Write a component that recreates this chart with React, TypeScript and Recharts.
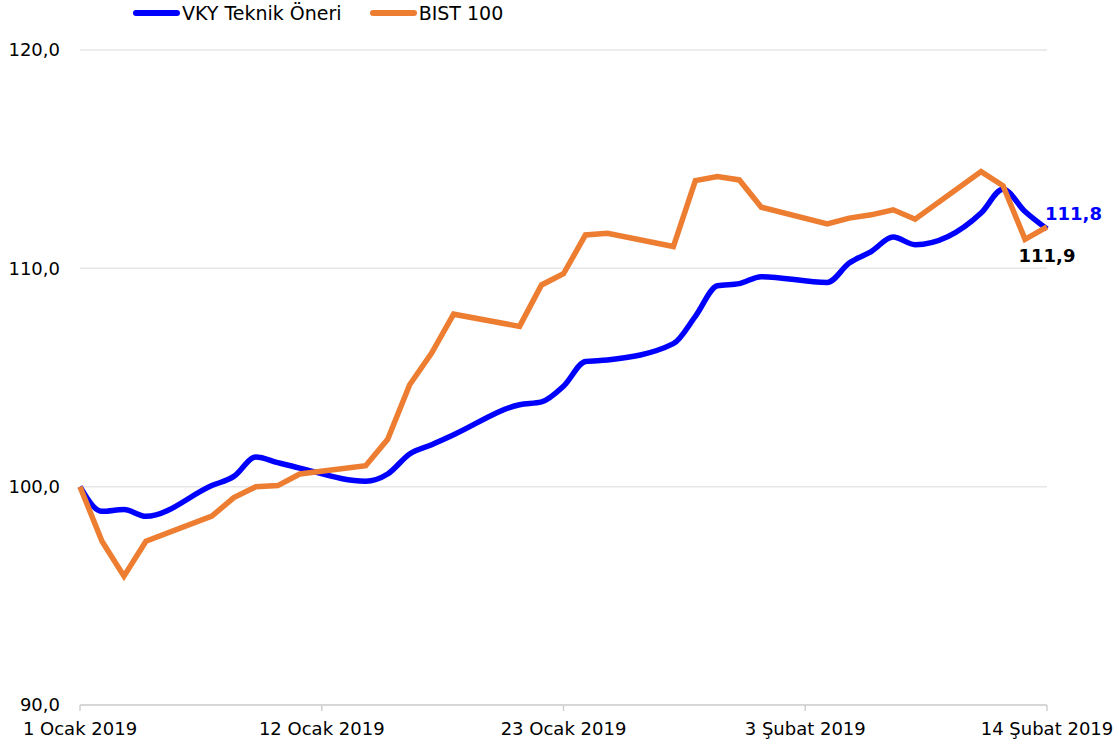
import React from "react";
import { LineChart, Line, XAxis, YAxis, CartesianGrid } from "recharts";

const dates = [
  "2019-01-01", "2019-01-02", "2019-01-03", "2019-01-04", "2019-01-07", "2019-01-08",
  "2019-01-09", "2019-01-10", "2019-01-11", "2019-01-14", "2019-01-15", "2019-01-16",
  "2019-01-17", "2019-01-18", "2019-01-21", "2019-01-22", "2019-01-23", "2019-01-24",
  "2019-01-25", "2019-01-28", "2019-01-29", "2019-01-30", "2019-01-31", "2019-02-01",
  "2019-02-04", "2019-02-05", "2019-02-06", "2019-02-07", "2019-02-08", "2019-02-11",
  "2019-02-12", "2019-02-13", "2019-02-14",
];

const vkyValues = [
  100.0, 98.87, 98.95, 98.64, 100.05, 100.47,
  101.36, 101.1, 100.85, 100.25, 100.58, 101.5,
  101.92, 102.38, 103.75, 103.88, 104.6, 105.73,
  105.8, 106.55, 107.8, 109.2, 109.3, 109.62,
  109.35, 110.24, 110.77, 111.43, 111.08, 112.53,
  113.62, 112.6, 111.8,
];

const bistValues = [
  100.0, 97.5, 95.9, 97.5, 98.65, 99.5,
  100.0, 100.05, 100.58, 100.96, 102.17, 104.67,
  106.12, 107.9, 107.34, 109.24, 109.75, 111.53,
  111.61, 111.0, 114.02, 114.2, 114.05, 112.8,
  112.04, 112.3, 112.45, 112.68, 112.25, 114.43,
  113.78, 111.33, 111.9,
];

const tickDates = ["2019-01-01", "2019-01-12", "2019-01-23", "2019-02-03", "2019-02-14"];
const tickLabels = ["1 Ocak 2019", "12 Ocak 2019", "23 Ocak 2019", "3 Şubat 2019", "14 Şubat 2019"];
const yTicks = [90, 100, 110, 120];

const seriesNames = ["VKY Teknik Öneri", "BIST 100"];
const BLUE = "#0000FF";
const ORANGE = "#ED7D31";
const FONT = "'DejaVu Sans', Verdana, sans-serif";

const DAY = 86400000;
const origin = new Date(dates[0]).getTime();
const toDay = (d: string) => Math.round((new Date(d).getTime() - origin) / DAY);

const data = dates.map((d, i) => ({
  day: toDay(d),
  vky: vkyValues[i],
  bist: bistValues[i],
}));
const tickDays = tickDates.map(toDay);
const lastIdx = data.length - 1;

const fmt = (v: number) => v.toFixed(1).replace(".", ",");

const VkyLabel = (props: any) => {
  const { x, y, index, value } = props;
  if (index !== lastIdx) return null;
  return (
    <text x={x - 2} y={y - 16} fill={BLUE} fontSize={18} fontWeight="bold" fontFamily={FONT} dominantBaseline="central" textAnchor="start">
      {fmt(value)}
    </text>
  );
};

const BistLabel = (props: any) => {
  const { x, y, index, value } = props;
  if (index !== lastIdx) return null;
  return (
    <text x={x} y={y + 29} fill="#000" fontSize={18} fontWeight="bold" fontFamily={FONT} dominantBaseline="central" textAnchor="middle">
      {fmt(value)}
    </text>
  );
};

const LegendItem = ({ color, label }: { color: string; label: string }) => (
  <div style={{ display: "flex", alignItems: "center", marginRight: 28 }}>
    <div style={{ width: 47, height: 6, borderRadius: 3, background: color, marginRight: 2 }} />
    <span style={{ fontSize: 19, lineHeight: "24px", fontFamily: FONT, color: "#000", whiteSpace: "nowrap" }}>{label}</span>
  </div>
);

export default function App() {
  return (
    <div style={{ position: "relative", width: 1119, height: 749 }}>
      <style>{"body{margin:0;}"}</style>
      <LineChart width={1119} height={749} data={data} margin={{ top: 50, right: 72, left: 0, bottom: 0 }}>
        <CartesianGrid vertical={false} stroke="#e6e6e6" strokeWidth={1.5} />
        <XAxis
          type="number"
          dataKey="day"
          domain={[0, tickDays[tickDays.length - 1]]}
          ticks={tickDays}
          tickFormatter={(v: number) => tickLabels[tickDays.indexOf(v)] ?? ""}
          height={44}
          axisLine={{ stroke: "#d0d0d0", strokeWidth: 1.5 }}
          tickLine={{ stroke: "#d0d0d0", strokeWidth: 1.5 }}
          tickSize={6}
          tickMargin={11}
          tick={{ fill: "#000", fontSize: 18, fontFamily: FONT }}
          interval={0}
        />
        <YAxis
          type="number"
          domain={[90, 120]}
          ticks={yTicks}
          tickFormatter={fmt}
          width={80}
          axisLine={false}
          tickLine={false}
          tickSize={0}
          tickMargin={20}
          tick={{ fill: "#000", fontSize: 18, fontFamily: FONT }}
          interval={0}
        />
        <Line
          type="monotone"
          dataKey="vky"
          name={seriesNames[0]}
          stroke={BLUE}
          strokeWidth={5.5}
          dot={false}
          isAnimationActive={false}
          label={<VkyLabel />}
        />
        <Line
          type="linear"
          dataKey="bist"
          name={seriesNames[1]}
          stroke={ORANGE}
          strokeWidth={5.5}
          dot={false}
          isAnimationActive={false}
          label={<BistLabel />}
        />
      </LineChart>
      <div style={{ position: "absolute", left: 133, top: 1, height: 24, display: "flex", alignItems: "center", zIndex: 10 }}>
        <LegendItem color={BLUE} label={seriesNames[0]} />
        <LegendItem color={ORANGE} label={seriesNames[1]} />
      </div>
    </div>
  );
}
